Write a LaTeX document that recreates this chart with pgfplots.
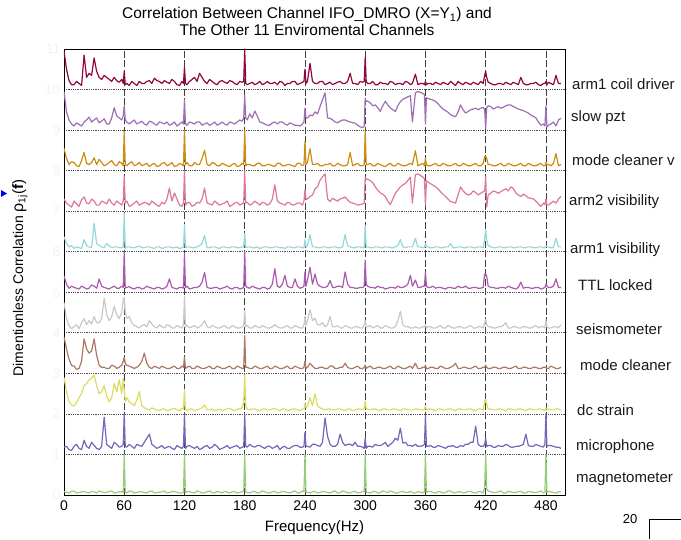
\documentclass[border=0pt]{standalone}
\usepackage{pgfplots}
\pgfplotsset{compat=1.18}
\usepackage{pgfplotstable}
\usepackage{fontspec}
\setmainfont{Liberation Sans}
\definecolor{colA}{RGB}{145,5,65}
\definecolor{colB}{RGB}{160,110,180}
\definecolor{colC}{RGB}{205,140,20}
\definecolor{colD}{RGB}{220,120,155}
\definecolor{colE}{RGB}{150,215,215}
\definecolor{colG}{RGB}{170,90,175}
\definecolor{colH}{RGB}{200,200,200}
\definecolor{colK}{RGB}{170,120,100}
\definecolor{colM}{RGB}{220,220,100}
\definecolor{colN}{RGB}{120,100,185}
\definecolor{colP}{RGB}{150,205,120}
\pgfplotstableread{
x a b c d e g h k m n p
0 .95 .95 .55 .30 .37 .40 .75 .90 .90 .18 .08
5 .22 .25 .15 .15 .12 .10 .18 .35 .30 .12 .05
10 .12 .10 .20 .25 .08 .12 .15 .18 .20 .20 .10
15 .15 .14 .10 .12 .10 .08 .10 .12 .40 .15 .06
20 .85 .20 .45 .35 .30 .12 .35 .85 .70 .35 .09
25 .40 .32 .15 .18 .12 .10 .30 .50 .84 .15 .05
30 .78 .25 .32 .25 .70 .15 .40 .85 .96 .22 .08
35 .30 .18 .28 .15 .15 .33 .25 .20 .50 .12 .10
40 .35 .28 .12 .22 .10 .12 .85 .15 .70 .92 .06
45 .25 .15 .20 .30 .15 .08 .30 .12 .30 .20 .09
50 .30 .55 .15 .15 .12 .15 .65 .18 .75 .30 .05
55 .18 .30 .22 .20 .10 .10 .35 .15 .84 .18 .08
59 .15 .35 .12 .25 .12 .12 .80 .30 .88 .25 .06
60 .45 .60 .97 .86 .95 1.0 .88 .40 .60 1.0 1.0
61 .12 .25 .15 .20 .08 .10 .50 .25 .30 .20 .07
65 .10 .15 .18 .12 .12 .14 .40 .18 .30 .25 .10
70 .15 .25 .12 .20 .10 .08 .18 .12 .20 .15 .05
75 .20 .18 .20 .15 .14 .12 .12 .20 .55 .22 .08
80 .15 .15 .15 .22 .10 .10 .20 .50 .15 .30 .06
85 .22 .22 .10 .15 .12 .12 .30 .15 .10 .50 .09
90 .28 .15 .18 .20 .08 .08 .15 .18 .12 .20 .05
95 .20 .20 .12 .12 .12 .12 .20 .12 .08 .18 .07
100 .22 .15 .20 .18 .10 .10 .12 .15 .12 .15 .10
105 .15 .12 .15 .57 .12 .33 .18 .12 .10 .20 .06
110 .20 .20 .10 .45 .10 .10 .12 .18 .14 .12 .08
115 .10 .15 .18 .15 .08 .12 .15 .12 .08 .18 .05
119 .15 .15 .12 .20 .12 .10 .20 .15 .12 .20 .07
120 .55 .75 1.0 1.0 .67 .95 .90 .40 .60 1.0 1.0
121 .15 .15 .15 .15 .10 .12 .15 .12 .10 .15 .06
125 .20 .20 .12 .22 .12 .08 .12 .18 .12 .22 .09
130 .30 .15 .20 .15 .10 .12 .18 .12 .08 .15 .05
135 .40 .20 .15 .20 .15 .15 .15 .15 .12 .12 .08
140 .20 .15 .50 .57 .40 .49 .30 .12 .22 .20 .06
145 .25 .12 .12 .18 .10 .10 .12 .18 .10 .15 .10
150 .15 .20 .18 .25 .12 .12 .15 .12 .08 .25 .05
155 .20 .15 .12 .15 .08 .08 .12 .15 .12 .12 .07
160 .18 .15 .15 .20 .12 .12 .18 .12 .10 .18 .09
165 .22 .20 .10 .12 .10 .10 .12 .18 .14 .15 .05
170 .15 .15 .18 .20 .12 .12 .15 .12 .08 .20 .08
175 .20 .25 .12 .15 .10 .08 .12 .15 .12 .15 .06
179 .20 .30 .15 .22 .12 .12 .18 .12 .30 .20 .10
180 1.0 .85 1.0 1.0 .45 1.0 .55 .93 .96 1.0 1.0
181 .15 .30 .12 .20 .10 .15 .15 .15 .20 .20 .07
185 .15 .40 .15 .15 .12 .10 .12 .12 .10 .25 .05
190 .12 .47 .12 .25 .10 .12 .18 .18 .12 .18 .09
195 .20 .20 .18 .15 .08 .08 .12 .12 .08 .22 .06
200 .15 .15 .12 .20 .12 .12 .15 .15 .12 .15 .08
205 .15 .12 .15 .18 .10 .10 .12 .12 .10 .20 .05
210 .18 .20 .10 .65 .12 .58 .20 .18 .14 .18 .09
215 .20 .20 .18 .20 .10 .12 .12 .12 .08 .12 .06
220 .10 .15 .12 .15 .08 .42 .15 .15 .12 .20 .08
225 .15 .18 .15 .20 .12 .12 .12 .12 .10 .15 .05
230 .20 .12 .10 .16 .10 .33 .18 .18 .12 .22 .10
235 .15 .10 .18 .20 .12 .10 .12 .12 .08 .18 .06
239 .20 .20 .15 .25 .10 .15 .20 .15 .12 .20 .08
240 .50 .54 .72 .52 .30 .50 .40 .30 .25 .55 1.0
241 .15 .30 .15 .30 .12 .15 .18 .12 .15 .20 .07
245 .65 .37 .54 .36 .42 .62 .57 .25 .40 .18 .05
250 .15 .45 .15 .55 .12 .45 .36 .12 .50 .25 .09
255 .20 .58 .12 .76 .10 .15 .20 .15 .15 .20 .06
260 .12 .92 .15 .92 .12 .12 .15 .12 .10 .90 .08
265 .18 .29 .18 .24 .10 .29 .40 .18 .12 .25 .05
270 .15 .20 .12 .28 .12 .12 .15 .12 .10 .20 .10
275 .20 .22 .15 .30 .10 .15 .12 .15 .12 .50 .06
280 .15 .25 .12 .35 .42 .50 .18 .25 .08 .22 .08
285 .40 .20 .45 .22 .12 .12 .12 .12 .12 .25 .05
290 .15 .17 .15 .18 .10 .10 .15 .15 .10 .30 .09
295 .20 .08 .12 .16 .12 .12 .12 .12 .12 .20 .06
299 .20 .10 .15 .20 .10 .15 .20 .15 .15 .15 .08
300 .80 .79 .98 .84 .65 .79 .30 .20 .32 .40 1.0
301 .20 .70 .15 .80 .12 .20 .15 .12 .12 .15 .07
305 .15 .67 .18 .76 .10 .12 .18 .18 .10 .20 .05
310 .12 .62 .12 .60 .12 .10 .15 .12 .12 .25 .09
315 .18 .46 .15 .45 .10 .12 .12 .15 .08 .22 .06
320 .15 .71 .10 .36 .12 .08 .18 .12 .12 .30 .08
325 .20 .55 .18 .16 .10 .12 .12 .18 .10 .25 .10
330 .12 .46 .12 .44 .12 .10 .15 .12 .12 .40 .05
335 .15 .70 .15 .60 .30 .12 .53 .15 .08 .65 .08
340 .20 .79 .12 .68 .10 .15 .15 .12 .12 .30 .06
345 .12 .85 .18 .84 .12 .42 .12 .18 .10 .22 .09
347 .15 .20 .15 .20 .12 .15 .12 .12 .10 .20 .06
350 .38 .92 .49 .90 .33 .30 .15 .25 .12 .25 .05
355 .15 .93 .15 .88 .12 .12 .12 .12 .10 .20 .07
359 .12 .88 .12 .80 .10 .15 .15 .15 .12 .25 .08
360 .20 .15 .30 .15 .20 .50 .20 .20 .20 .95 1.0
361 .12 .80 .15 .75 .12 .15 .12 .12 .10 .20 .06
365 .15 .76 .12 .68 .10 .12 .15 .15 .12 .22 .09
370 .18 .71 .18 .60 .12 .10 .12 .12 .08 .18 .05
375 .12 .58 .12 .48 .10 .12 .18 .18 .12 .20 .08
380 .15 .48 .15 .36 .12 .08 .12 .12 .10 .15 .06
385 .20 .38 .12 .24 .20 .12 .15 .15 .12 .20 .10
390 .10 .33 .18 .20 .10 .10 .12 .25 .08 .18 .05
395 .15 .62 .12 .60 .12 .12 .15 .12 .12 .22 .08
400 .18 .42 .15 .44 .10 .15 .12 .15 .10 .25 .06
405 .12 .50 .12 .42 .12 .10 .18 .12 .12 .30 .09
410 .15 .54 .18 .46 .10 .12 .12 .18 .08 .70 .05
415 .20 .54 .12 .44 .12 .10 .15 .12 .12 .20 .08
419 .35 .50 .35 .50 .30 .45 .25 .15 .30 .25 .20
420 .45 .04 .35 .85 .54 .45 .33 .20 .36 .40 1.0
421 .30 .55 .30 .10 .30 .40 .20 .15 .25 .20 .15
425 .15 .58 .15 .44 .12 .12 .15 .12 .12 .22 .08
430 .12 .55 .12 .48 .10 .10 .12 .15 .10 .18 .06
435 .15 .54 .18 .48 .12 .12 .15 .12 .12 .20 .10
440 .18 .60 .12 .55 .10 .10 .25 .15 .08 .25 .05
445 .12 .62 .15 .60 .12 .12 .12 .12 .12 .18 .08
450 .15 .55 .12 .45 .10 .08 .15 .18 .10 .20 .06
455 .30 .50 .18 .36 .12 .25 .12 .12 .12 .22 .09
460 .12 .45 .12 .38 .10 .12 .15 .15 .08 .50 .05
465 .15 .37 .15 .32 .12 .10 .12 .12 .12 .20 .08
470 .18 .30 .12 .25 .10 .12 .18 .15 .10 .25 .06
475 .10 .12 .18 .12 .12 .08 .15 .12 .12 .20 .10
479 .15 .10 .12 .16 .10 .12 .12 .15 .08 .25 .07
480 .20 .60 .20 .30 .15 .20 .33 .15 .15 1.0 1.0
481 .12 .08 .15 .15 .12 .15 .15 .12 .12 .20 .06
485 .15 .15 .12 .20 .10 .12 .12 .18 .10 .22 .08
490 .35 .10 .42 .20 .33 .33 .15 .12 .12 .18 .05
495 .15 .29 .15 .36 .12 .12 .20 .15 .10 .15 .08
}\datatable
\pgfplotstableread{
x a b c d e g h k m n p
2.5 .50 .45 .30 .20 .20 .20 .35 .60 .55 .20 .07
7.5 .12 .15 .22 .10 .15 .15 .10 .20 .22 .10 .09
12.5 .20 .18 .12 .18 .12 .10 .20 .10 .28 .25 .05
17.5 .10 .10 .25 .28 .08 .15 .25 .30 .50 .12 .08
22.5 .30 .25 .18 .20 .15 .08 .20 .60 .75 .20 .06
27.5 .35 .20 .20 .30 .10 .18 .22 .55 .88 .30 .09
32.5 .45 .30 .15 .15 .20 .10 .25 .45 .70 .15 .05
37.5 .25 .22 .20 .25 .12 .15 .35 .15 .55 .20 .08
42.5 .30 .15 .15 .18 .20 .10 .45 .12 .45 .25 .07
47.5 .20 .30 .25 .20 .10 .12 .40 .20 .40 .15 .10
52.5 .22 .35 .12 .25 .12 .10 .45 .12 .55 .25 .06
57.5 .25 .25 .18 .15 .10 .15 .50 .20 .50 .20 .08
62.5 .15 .20 .12 .25 .12 .12 .35 .20 .40 .18 .05
67.5 .20 .20 .22 .15 .10 .10 .25 .15 .25 .20 .09
72.5 .10 .15 .15 .25 .12 .12 .15 .15 .35 .25 .06
77.5 .15 .22 .12 .18 .10 .08 .18 .30 .20 .20 .08
82.5 .20 .12 .18 .20 .12 .15 .15 .25 .12 .40 .05
87.5 .15 .20 .15 .25 .10 .10 .22 .12 .15 .25 .10
92.5 .22 .12 .10 .15 .12 .12 .12 .15 .10 .15 .06
97.5 .15 .18 .18 .22 .08 .08 .15 .18 .12 .22 .08
102.5 .18 .20 .12 .30 .12 .15 .20 .12 .08 .18 .05
107.5 .25 .15 .20 .25 .10 .12 .12 .15 .12 .15 .09
112.5 .12 .10 .12 .30 .12 .08 .18 .12 .10 .22 .07
117.5 .20 .20 .15 .12 .10 .12 .12 .18 .14 .15 .05
122.5 .12 .12 .20 .20 .12 .15 .18 .15 .08 .20 .08
127.5 .25 .18 .12 .12 .10 .10 .15 .12 .12 .18 .06
132.5 .20 .20 .15 .22 .12 .12 .12 .18 .10 .20 .10
137.5 .30 .12 .30 .30 .20 .25 .20 .12 .15 .15 .05
142.5 .15 .18 .15 .20 .10 .12 .15 .15 .10 .22 .08
147.5 .20 .15 .20 .15 .12 .10 .18 .12 .12 .18 .06
152.5 .12 .12 .12 .20 .10 .12 .12 .18 .10 .20 .09
157.5 .22 .20 .18 .18 .12 .10 .15 .12 .08 .15 .05
162.5 .15 .12 .12 .25 .10 .15 .12 .15 .12 .22 .07
167.5 .20 .18 .15 .15 .12 .08 .18 .12 .10 .18 .08
172.5 .12 .20 .10 .22 .10 .12 .12 .18 .12 .22 .05
177.5 .18 .22 .18 .18 .12 .10 .15 .12 .15 .18 .09
182.5 .12 .25 .15 .22 .12 .12 .18 .15 .12 .18 .06
187.5 .18 .30 .12 .18 .10 .15 .12 .12 .12 .20 .08
192.5 .15 .35 .18 .20 .12 .10 .15 .15 .10 .22 .05
197.5 .12 .18 .12 .22 .10 .12 .18 .12 .12 .18 .10
202.5 .20 .12 .15 .15 .12 .08 .12 .18 .10 .20 .06
207.5 .15 .18 .12 .30 .10 .20 .15 .12 .12 .15 .08
212.5 .12 .15 .18 .25 .12 .15 .15 .15 .10 .22 .05
217.5 .18 .20 .12 .18 .10 .20 .12 .12 .12 .18 .09
222.5 .15 .12 .15 .22 .12 .15 .18 .18 .08 .15 .06
227.5 .20 .15 .12 .15 .10 .12 .12 .12 .12 .20 .08
232.5 .12 .12 .18 .20 .12 .15 .15 .15 .10 .22 .05
237.5 .18 .15 .12 .15 .10 .12 .12 .12 .12 .18 .10
242.5 .20 .30 .20 .30 .15 .30 .30 .15 .20 .20 .07
247.5 .20 .35 .15 .40 .12 .20 .30 .18 .20 .25 .08
252.5 .15 .40 .18 .60 .10 .20 .20 .12 .20 .22 .05
257.5 .20 .75 .12 .85 .12 .12 .25 .15 .12 .30 .09
262.5 .15 .30 .15 .30 .10 .15 .20 .12 .12 .45 .06
267.5 .12 .25 .12 .32 .12 .12 .15 .18 .10 .20 .08
272.5 .18 .18 .18 .25 .10 .15 .18 .12 .12 .25 .05
277.5 .15 .25 .12 .32 .12 .12 .12 .15 .10 .30 .10
282.5 .20 .22 .15 .28 .15 .20 .15 .15 .12 .25 .06
287.5 .15 .18 .12 .20 .10 .12 .12 .12 .08 .22 .08
292.5 .12 .12 .18 .15 .12 .10 .15 .18 .12 .20 .05
297.5 .18 .06 .12 .18 .10 .12 .12 .12 .10 .18 .09
302.5 .15 .72 .15 .78 .12 .15 .15 .15 .12 .20 .06
307.5 .20 .60 .12 .70 .10 .12 .12 .12 .12 .18 .08
312.5 .12 .55 .18 .52 .12 .15 .18 .15 .10 .22 .05
317.5 .15 .60 .12 .42 .10 .12 .12 .12 .12 .25 .10
322.5 .12 .62 .15 .25 .12 .10 .15 .15 .10 .20 .06
327.5 .18 .50 .12 .30 .10 .12 .12 .12 .12 .30 .08
332.5 .15 .60 .18 .52 .15 .15 .30 .18 .10 .35 .05
337.5 .12 .76 .12 .65 .12 .12 .20 .12 .12 .28 .09
342.5 .18 .82 .15 .76 .12 .20 .15 .15 .10 .22 .06
352.5 .12 .95 .12 .92 .12 .12 .12 .12 .12 .20 .08
357.5 .15 .90 .18 .84 .10 .15 .15 .15 .10 .22 .05
362.5 .15 .78 .12 .72 .12 .12 .15 .12 .12 .20 .09
367.5 .12 .74 .15 .64 .10 .15 .12 .15 .10 .18 .06
372.5 .15 .65 .12 .55 .12 .12 .15 .12 .12 .22 .08
377.5 .18 .52 .18 .42 .10 .10 .12 .15 .10 .18 .05
382.5 .12 .44 .12 .30 .12 .12 .18 .12 .12 .20 .10
387.5 .15 .35 .15 .22 .10 .10 .12 .18 .10 .22 .06
392.5 .20 .45 .12 .40 .12 .15 .15 .12 .12 .18 .08
397.5 .12 .50 .18 .50 .10 .12 .12 .15 .10 .20 .05
402.5 .15 .46 .12 .40 .12 .10 .15 .12 .12 .25 .09
407.5 .18 .52 .15 .50 .10 .12 .12 .15 .10 .30 .06
412.5 .12 .50 .12 .40 .12 .10 .15 .12 .12 .25 .08
417.5 .15 .56 .18 .48 .10 .12 .12 .15 .10 .20 .05
422.5 .18 .60 .15 .40 .15 .15 .15 .12 .12 .22 .10
427.5 .12 .52 .12 .50 .10 .12 .12 .15 .10 .18 .06
432.5 .15 .58 .15 .44 .12 .10 .15 .12 .12 .22 .08
437.5 .12 .56 .12 .52 .10 .12 .18 .15 .10 .20 .05
442.5 .15 .62 .18 .50 .12 .15 .12 .12 .12 .22 .09
447.5 .18 .58 .12 .56 .10 .10 .15 .15 .10 .18 .06
452.5 .12 .52 .15 .40 .12 .12 .12 .12 .12 .20 .08
457.5 .15 .48 .12 .42 .10 .10 .15 .15 .10 .25 .05
462.5 .12 .42 .18 .33 .12 .12 .12 .12 .12 .22 .09
467.5 .15 .34 .12 .30 .10 .10 .15 .15 .10 .20 .06
472.5 .12 .20 .15 .18 .12 .12 .12 .12 .12 .22 .08
477.5 .15 .15 .12 .20 .10 .10 .15 .15 .10 .18 .05
482.5 .18 .12 .15 .15 .12 .12 .12 .12 .12 .22 .09
487.5 .12 .20 .18 .25 .10 .15 .15 .15 .10 .20 .06
492.5 .15 .25 .12 .30 .12 .12 .12 .12 .12 .18 .08
}\finetable
\pgfplotstablevertcat{\datatable}{\finetable}
\pgfplotstablesort[sort key=x, sort cmp=float <]{\alltable}{\datatable}
\begin{document}
\begin{tikzpicture}
\useasboundingbox (0pt,0pt) rectangle (681pt,539pt);
\begin{axis}[
  at={(64pt,44pt)}, anchor=south west,
  scale only axis, width=501pt, height=446pt,
  xmin=0, xmax=499, ymin=0, ymax=11,
  xtick={0,60,...,480}, ytick={0,...,11},
  major tick length=0pt,
  xmajorgrids, ymajorgrids,
  major x grid style={black!75, line width=0.8pt, dash pattern=on 7pt off 2.5pt},
  major y grid style={black!70, line width=0.8pt, densely dotted},
  axis line style={black, line width=0.8pt},
  /pgf/number format/assume math mode=true,
  tick label style={font=\fontsize{14}{14}\selectfont},
  xticklabel style={yshift=-2pt},
  yticklabel style={text=black!5},
  xlabel={Frequency(Hz)},
  xlabel style={font=\fontsize{15}{15}\selectfont, yshift=-3pt},
  ylabel={Dimentionless Correlation {\fontsize{16}{16}\selectfont ρ}\textsubscript{\fontsize{10}{10}\selectfont 1j}{\fontsize{15}{15}\selectfont(\textbf{f})}},
  ylabel style={font=\fontsize{14}{14}\selectfont, at={(axis description cs:-0.088,0.258)}, anchor=west},
  title={Correlation Between Channel IFO\_DMRO (X=Y\textsubscript{1}) and\\The Other 11 Enviromental Channels},
  title style={font=\fontsize{15.5}{17}\selectfont, align=center, at={(axis description cs:0.485,1)}, anchor=south, yshift=3.5pt},
  every axis plot/.append style={line width=1.2pt, line join=round},
]
\addplot[color=colP] table[x=x, y expr=\thisrow{p}+0] {\alltable};
\addplot[color=colN] table[x=x, y expr=\thisrow{n}+1] {\alltable};
\addplot[color=colM] table[x=x, y expr=\thisrow{m}+2] {\alltable};
\addplot[color=colK] table[x=x, y expr=\thisrow{k}+3] {\alltable};
\addplot[color=colH] table[x=x, y expr=\thisrow{h}+4] {\alltable};
\addplot[color=colG] table[x=x, y expr=\thisrow{g}+5] {\alltable};
\addplot[color=colE] table[x=x, y expr=\thisrow{e}+6] {\alltable};
\addplot[color=colD] table[x=x, y expr=\thisrow{d}+7] {\alltable};
\addplot[color=colC] table[x=x, y expr=\thisrow{c}+8] {\alltable};
\addplot[color=colB] table[x=x, y expr=\thisrow{b}+9] {\alltable};
\addplot[color=colA] table[x=x, y expr=\thisrow{a}+10] {\alltable};
\end{axis}
\begin{scope}[every node/.style={anchor=west, inner sep=0pt, font=\fontsize{15}{15}\selectfont, text=black!90}]
\node at (572pt,455pt) {arm1 coil driver};
\node at (571pt,421pt) {slow pzt};
\node at (572pt,379pt) {mode cleaner v};
\node at (569pt,337pt) {arm2 visibility};
\node at (570pt,289pt) {arm1 visibility};
\node at (578pt,254pt) {TTL locked};
\node at (576pt,210pt) {seismometer};
\node at (580pt,174pt) {mode cleaner};
\node at (577pt,129pt) {dc strain};
\node at (576pt,92pt) {microphone};
\node at (576pt,60pt) {magnetometer};
\end{scope}
\node[font=\fontsize{13}{13}\selectfont, inner sep=0pt] at (630pt,20pt) {20};
\draw[line width=0.8pt] (681pt,20pt) -- (649pt,20pt) -- (649pt,0pt);
\fill[blue] (1pt,349pt) -- (7pt,345.5pt) -- (1pt,342pt) -- cycle;
\end{tikzpicture}
\end{document}
